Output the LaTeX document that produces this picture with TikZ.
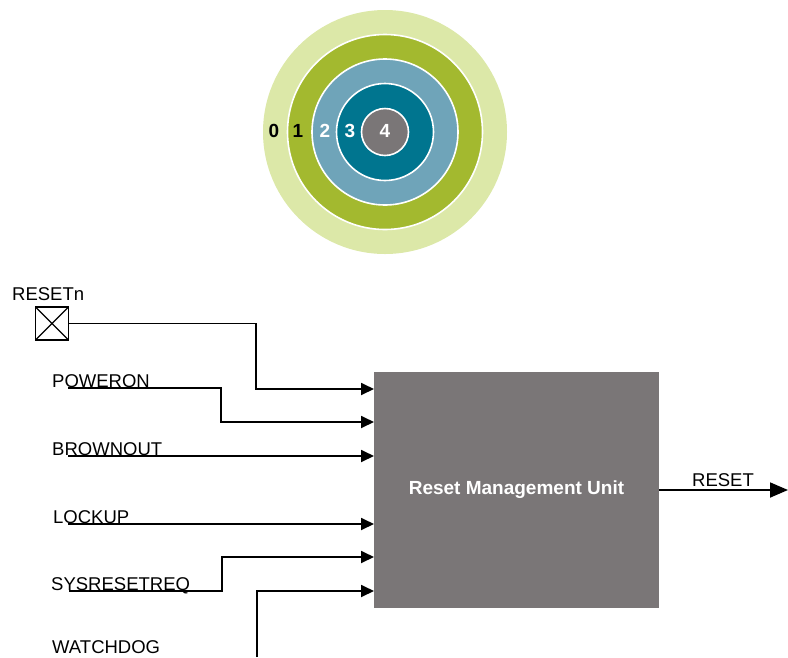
\documentclass[tikz,border=0pt]{standalone}
\usepackage{fontspec}
\setmainfont{Liberation Sans}
\usetikzlibrary{arrows.meta,calc}
\definecolor{ring0}{HTML}{DCE8A8}
\definecolor{ring1}{HTML}{A3B92F}
\definecolor{ring2}{HTML}{6FA4B9}
\definecolor{ring3}{HTML}{00758F}
\definecolor{ring4}{HTML}{7A7677}
\definecolor{unitgrey}{HTML}{7A7677}
\tikzset{
  ringc/.style={circle,draw=white,line width=1.6pt,inner sep=0pt,minimum size=#1},
  ringlbl/.style={font=\fontsize{19}{19}\selectfont\bfseries,inner sep=0pt},
  sig/.style={anchor=base west,font=\fontsize{18.5}{19}\selectfont,inner sep=0pt},
  wire/.style={line width=1.8pt,line join=miter},
  inarrow/.style={wire,-{Triangle[length=13pt,width=12pt]}},
  outarrow/.style={wire,-{Triangle[length=18pt,width=15pt]}}
}
\begin{document}
\begin{tikzpicture}[x=1pt,y=-1pt]
\useasboundingbox (0,0) rectangle (788,657);
% target rings
\node[ringc=244,fill=ring0,draw=none] (r0) at (385,132) {};
\node[ringc=195,fill=ring1] (r1) at (385,132) {};
\node[ringc=146,fill=ring2] (r2) at (385,132) {};
\node[ringc=97,fill=ring3] (r3) at (385,132) {};
\node[ringc=47,fill=ring4] (r4) at (385,132) {};
\node[ringlbl,text=black] (l0) at (274,131) {0};
\node[ringlbl,text=black] (l1) at (298,131) {1};
\node[ringlbl,text=white] (l2) at (325,131) {2};
\node[ringlbl,text=white] (l3) at (350,131) {3};
\node[ringlbl,text=white] (l4) at (385,131) {4};
% unit
\node[fill=unitgrey,minimum width=285pt,minimum height=236pt,inner sep=0pt,
      text=white,font=\fontsize{19}{19}\selectfont\bfseries] (box) at (516.5,490) {Reset Management Unit};
% pad
\node[draw,line width=1.2pt,minimum width=33pt,minimum height=33pt,inner sep=0pt,
      path picture={\draw[line width=1.2pt] (path picture bounding box.north west) -- (path picture bounding box.south east)
                    (path picture bounding box.south west) -- (path picture bounding box.north east);}] (pad) at (52,323.5) {};
% labels
\node[sig] (tRn) at (12,300) {RESETn};
\node[sig] (tPO) at (52,387) {POWERON};
\node[sig] (tBO) at (52,455) {BROWNOUT};
\node[sig] (tLU) at (53,523) {LOCKUP};
\node[sig] (tSR) at (51,590) {SYSRESETREQ};
\node[sig] (tWD) at (52,653) {WATCHDOG};
\node[sig] (tRS) at (692,486) {RESET};
% wire end points
\coordinate (sPO) at (68,388);
\coordinate (sBO) at (68,456);
\coordinate (sLU) at (68,524);
\coordinate (sSR) at (69,591);
\coordinate (sWD) at (257,657);
\coordinate (eRn) at (374,389);
\coordinate (ePO) at (374,422);
\coordinate (eBO) at (374,456);
\coordinate (eLU) at (374,524);
\coordinate (eSR) at (374,557);
\coordinate (eWD) at (374,591);
\coordinate (eRS) at (788,490);
% wires
\draw[inarrow] (pad.east) -- (256,323.5) |- (eRn);
\draw[inarrow] (sPO) -- (221,388) |- (ePO);
\draw[inarrow] (sBO) -- (eBO);
\draw[inarrow] (sLU) -- (eLU);
\draw[inarrow] (sSR) -- (222,591) |- (eSR);
\draw[inarrow] (sWD) |- (eWD);
\draw[outarrow] (box.east) -- (eRS);
\end{tikzpicture}
\end{document}
